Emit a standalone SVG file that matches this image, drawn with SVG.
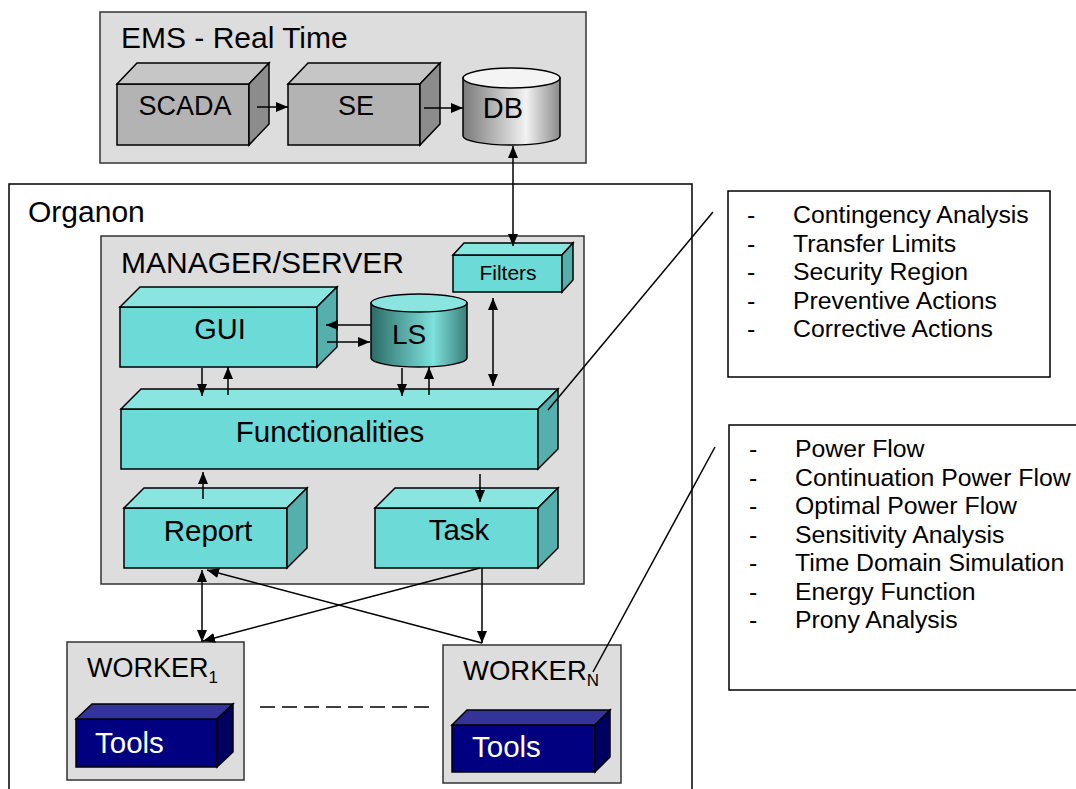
<svg xmlns="http://www.w3.org/2000/svg" width="1076" height="789" viewBox="0 0 1076 789">
<defs>
<style>
.cont{fill:#dddddd;stroke:#333;stroke-width:1.5}
.ln{stroke:#000;stroke-width:1.5;fill:none}
.t{font-family:"Liberation Sans",Arial,sans-serif;fill:#000}
.cf{fill:#6cdad6;stroke:#000;stroke-width:1.5}
.ct{fill:#8ae4e0;stroke:#000;stroke-width:1.5}
.cs{fill:#55b0ad;stroke:#000;stroke-width:1.5}
.gf{fill:#b3b3b3;stroke:#000;stroke-width:1.5}
.gt{fill:#c6c6c6;stroke:#000;stroke-width:1.5}
.gs{fill:#8c8c8c;stroke:#000;stroke-width:1.5}
.nf{fill:#000080;stroke:#000;stroke-width:1.5}
.nt{fill:#333399;stroke:#000;stroke-width:1.5}
.ns{fill:#000060;stroke:#000;stroke-width:1.5}
.lst{font-family:"Liberation Sans",Arial,sans-serif;font-size:24.8px;fill:#000}
</style>
<marker id="ah" viewBox="0 0 12 10" refX="12" refY="5" markerWidth="12" markerHeight="10" markerUnits="userSpaceOnUse" orient="auto-start-reverse">
<path d="M0,0 L12,5 L0,10 Z" fill="#000"/>
</marker>
<linearGradient id="dbg" x1="0" y1="0" x2="1" y2="0">
<stop offset="0" stop-color="#7a7a7a"/>
<stop offset="0.65" stop-color="#f2f2f2"/>
<stop offset="1" stop-color="#8a8a8a"/>
</linearGradient>
<linearGradient id="lsg" x1="0" y1="0" x2="1" y2="0">
<stop offset="0" stop-color="#2c6b67"/>
<stop offset="0.65" stop-color="#7fe0dc"/>
<stop offset="1" stop-color="#3a7e7a"/>
</linearGradient>
</defs>
<rect width="1076" height="789" fill="#fff"/>

<g id="ems">
<rect class="cont" x="100" y="12" width="486" height="151"/>
<text class="t" x="121" y="48" font-size="30">EMS - Real Time</text>
</g>
<g id="scada">
<rect class="gf" x="117" y="84" width="132" height="61"/>
<polygon class="gt" points="117,84 137,63 269,63 249,84"/>
<polygon class="gs" points="249,84 269,63 269,124 249,145"/>
<text class="t" x="185" y="115" font-size="27" text-anchor="middle">SCADA</text>
</g>
<g id="se">
<rect class="gf" x="288" y="84" width="132" height="61"/>
<polygon class="gt" points="288,84 308,63 440,63 420,84"/>
<polygon class="gs" points="420,84 440,63 440,124 420,145"/>
<text class="t" x="356" y="115" font-size="27" text-anchor="middle">SE</text>
</g>
<g id="db">
<path d="M463,78 L463,136 A48.5,9 0 0 0 560,136 L560,78 Z" fill="url(#dbg)" stroke="#000" stroke-width="1.5"/>
<ellipse cx="511.5" cy="78" rx="48.5" ry="10" fill="#f4f4f4" stroke="#000" stroke-width="1.5"/>
<text class="t" x="503" y="118" font-size="29" text-anchor="middle">DB</text>
</g>

<g id="organon">
<rect x="9" y="184" width="683" height="620" fill="#fff" stroke="#000" stroke-width="1.5"/>
<text class="t" x="28" y="222" font-size="30">Organon</text>
</g>
<g id="manager">
<rect class="cont" x="101" y="236" width="483" height="348"/>
<text class="t" x="121" y="273" font-size="30">MANAGER/SERVER</text>
</g>
<g id="filters">
<rect class="cf" x="453" y="255" width="109" height="37"/>
<polygon class="ct" points="453,255 464,243 573,243 562,255"/>
<polygon class="cs" points="562,255 573,243 573,280 562,292"/>
<text class="t" x="508" y="280" font-size="21" text-anchor="middle">Filters</text>
</g>
<g id="gui">
<rect class="cf" x="120" y="307" width="197" height="60"/>
<polygon class="ct" points="120,307 140,287 337,287 317,307"/>
<polygon class="cs" points="317,307 337,287 337,347 317,367"/>
<text class="t" x="220" y="339" font-size="29" text-anchor="middle">GUI</text>
</g>
<g id="ls">
<path d="M371,303 L371,358 A48,9 0 0 0 467,358 L467,303 Z" fill="url(#lsg)" stroke="#000" stroke-width="1.5"/>
<ellipse cx="419" cy="303" rx="48" ry="9" fill="#8ae4e0" stroke="#000" stroke-width="1.5"/>
<text class="t" x="409" y="344" font-size="28" text-anchor="middle">LS</text>
</g>
<g id="functionalities">
<rect class="cf" x="121" y="409" width="417" height="60"/>
<polygon class="ct" points="121,409 141,389 558,389 538,409"/>
<polygon class="cs" points="538,409 558,389 558,449 538,469"/>
<text class="t" x="330" y="442" font-size="29.5" text-anchor="middle">Functionalities</text>
</g>
<g id="report">
<rect class="cf" x="124" y="508" width="163" height="60"/>
<polygon class="ct" points="124,508 144,488 307,488 287,508"/>
<polygon class="cs" points="287,508 307,488 307,548 287,568"/>
<text class="t" x="208" y="541" font-size="29.5" text-anchor="middle">Report</text>
</g>
<g id="task">
<rect class="cf" x="375" y="508" width="163" height="60"/>
<polygon class="ct" points="375,508 395,488 558,488 538,508"/>
<polygon class="cs" points="538,508 558,488 558,548 538,568"/>
<text class="t" x="459" y="540" font-size="29.5" text-anchor="middle">Task</text>
</g>
<g id="worker1">
<rect class="cont" x="67" y="642" width="177" height="138"/>
<text class="t" x="87" y="677" font-size="27">WORKER<tspan font-size="17" dy="6">1</tspan></text>
<rect class="nf" x="76" y="719" width="141" height="48"/>
<polygon class="nt" points="76,719 92,704 233,704 217,719"/>
<polygon class="ns" points="217,719 233,704 233,752 217,767"/>
<text class="t" x="95" y="753" font-size="29.5" style="fill:#fff">Tools</text>
</g>
<g id="workerN">
<rect class="cont" x="443" y="645" width="178" height="138"/>
<text class="t" x="463" y="680" font-size="27.5">WORKER<tspan font-size="17" dy="6">N</tspan></text>
<rect class="nf" x="452" y="725" width="143" height="47"/>
<polygon class="nt" points="452,725 467,710 610,710 595,725"/>
<polygon class="ns" points="595,725 610,710 610,757 595,772"/>
<text class="t" x="472" y="757" font-size="29.5" style="fill:#fff">Tools</text>
</g>
<g id="list1">
<rect x="728" y="191" width="322" height="186" fill="#fff" stroke="#000" stroke-width="1.5"/>
<text class="lst" x="747" y="223">-</text><text class="lst" x="793" y="223">Contingency Analysis</text>
<text class="lst" x="747" y="252">-</text><text class="lst" x="793" y="252">Transfer Limits</text>
<text class="lst" x="747" y="280">-</text><text class="lst" x="793" y="280">Security Region</text>
<text class="lst" x="747" y="309">-</text><text class="lst" x="793" y="309">Preventive Actions</text>
<text class="lst" x="747" y="337">-</text><text class="lst" x="793" y="337">Corrective Actions</text>
</g>
<g id="list2">
<rect x="729" y="425" width="360" height="265" fill="#fff" stroke="#000" stroke-width="1.5"/>
<text class="lst" x="749" y="457">-</text><text class="lst" x="795" y="457">Power Flow</text>
<text class="lst" x="749" y="486">-</text><text class="lst" x="795" y="486">Continuation Power Flow</text>
<text class="lst" x="749" y="514">-</text><text class="lst" x="795" y="514">Optimal Power Flow</text>
<text class="lst" x="749" y="543">-</text><text class="lst" x="795" y="543">Sensitivity Analysis</text>
<text class="lst" x="749" y="571">-</text><text class="lst" x="795" y="571">Time Domain Simulation</text>
<text class="lst" x="749" y="600">-</text><text class="lst" x="795" y="600">Energy Function</text>
<text class="lst" x="749" y="628">-</text><text class="lst" x="795" y="628">Prony Analysis</text>
</g>

<g id="connectors">
<line class="ln" x1="257" y1="107" x2="288" y2="107" marker-end="url(#ah)"/>
<line class="ln" x1="424" y1="108" x2="463" y2="108" marker-end="url(#ah)"/>
<line class="ln" x1="513" y1="146" x2="513" y2="246" marker-start="url(#ah)" marker-end="url(#ah)"/>
<line class="ln" x1="371" y1="325" x2="326" y2="325" marker-end="url(#ah)"/>
<line class="ln" x1="327" y1="342" x2="370" y2="342" marker-end="url(#ah)"/>
<line class="ln" x1="202" y1="368" x2="202" y2="396" marker-end="url(#ah)"/>
<line class="ln" x1="228" y1="395" x2="228" y2="367" marker-end="url(#ah)"/>
<line class="ln" x1="402" y1="368" x2="402" y2="396" marker-end="url(#ah)"/>
<line class="ln" x1="429" y1="395" x2="429" y2="367" marker-end="url(#ah)"/>
<line class="ln" x1="493" y1="298" x2="493" y2="386" marker-start="url(#ah)" marker-end="url(#ah)"/>
<line class="ln" x1="203" y1="499" x2="203" y2="472" marker-end="url(#ah)"/>
<line class="ln" x1="480" y1="474" x2="480" y2="502" marker-end="url(#ah)"/>
<line class="ln" x1="202" y1="570" x2="202" y2="642" marker-start="url(#ah)" marker-end="url(#ah)"/>
<line class="ln" x1="480" y1="568" x2="203" y2="641" marker-end="url(#ah)"/>
<line class="ln" x1="482" y1="643" x2="207" y2="570" marker-end="url(#ah)"/>
<line class="ln" x1="482" y1="568" x2="482" y2="643" marker-end="url(#ah)"/>
<line class="ln" x1="260" y1="707" x2="431" y2="707" stroke-dasharray="15,7"/>
<line class="ln" x1="548" y1="410" x2="713" y2="212"/>
<line class="ln" x1="593" y1="672" x2="715" y2="447"/>
</g>
</svg>
